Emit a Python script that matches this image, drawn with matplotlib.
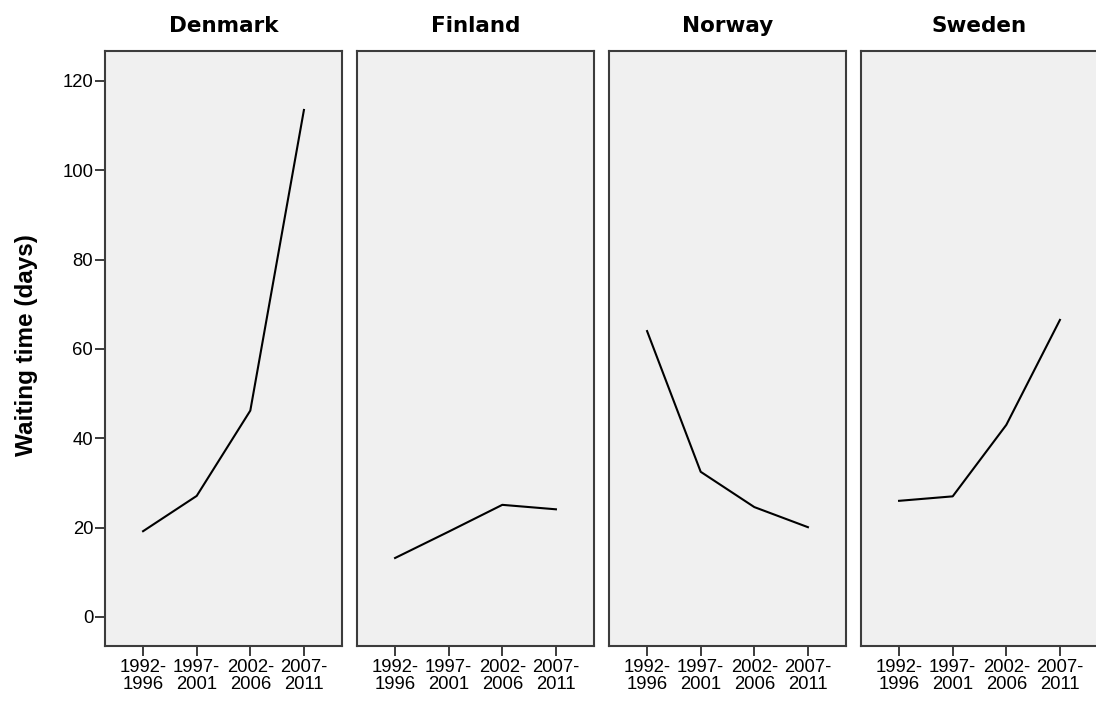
import matplotlib
matplotlib.use("Agg")
import matplotlib.pyplot as plt

countries = ["Denmark", "Finland", "Norway", "Sweden"]
periods = ["1992-\n1996", "1997-\n2001", "2002-\n2006", "2007-\n2011"]
denmark = [19.2, 27.1, 46.2, 113.5]
finland = [13.2, 19.1, 25.1, 24.1]
norway = [64.0, 32.5, 24.6, 20.1]
sweden = [26.0, 27.0, 43.0, 66.5]
series = [denmark, finland, norway, sweden]
yticks = [0, 20, 40, 60, 80, 100, 120]

plt.rcParams['font.family'] = ['Liberation Sans', 'DejaVu Sans']
fig = plt.figure(figsize=(10.96, 7.02), dpi=100)
W, H = 1096, 702
lefts = [105, 357, 609, 861]
pw = 237
top, bottom = 51, 646
for i, (c, vals) in enumerate(zip(countries, series)):
    ax = fig.add_axes([lefts[i] / W, 1 - bottom / H, pw / W, (bottom - top) / H])
    ax.set_facecolor('#f0f0f0')
    x = list(range(len(periods)))
    ax.plot(x, vals, color='black', lw=1.5)
    ax.set_xlim(-0.71, 3.71)
    ax.set_ylim(-6.5, 126.7)
    ax.set_xticks(x)
    ax.set_xticklabels(periods, fontsize=13.3, linespacing=0.95)
    for s in ax.spines.values():
        s.set_color('#3c3c3c')
        s.set_linewidth(1.5)
    ax.tick_params(axis='x', length=7.5, width=1.4, color='#3c3c3c', pad=2)
    if i == 0:
        ax.set_yticks(yticks)
        ax.set_yticklabels([str(v) for v in yticks], fontsize=13.3)
        ax.tick_params(axis='y', length=7.5, width=1.4, color='#3c3c3c', pad=1)
        ax.set_ylabel('Waiting time (days)', fontsize=17.5, fontweight='bold')
        ax.yaxis.set_label_coords(-0.283, 0.505)
    else:
        ax.set_yticks([])
    ax.set_title(c, fontsize=15.5, fontweight='bold', pad=13.5, family='DejaVu Sans')

fig.savefig('out.png', dpi=100)
